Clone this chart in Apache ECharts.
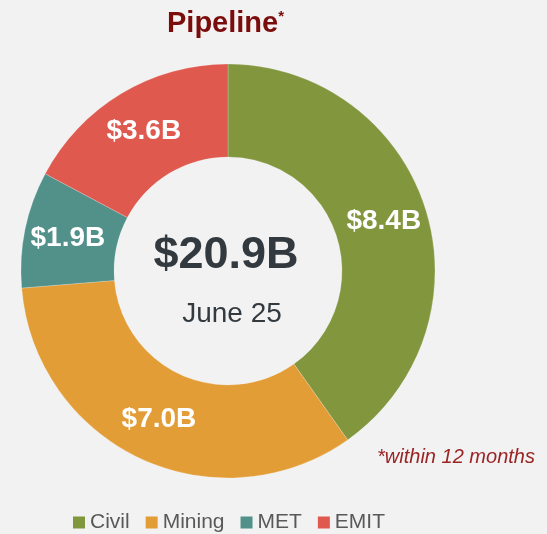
<!DOCTYPE html>
<html>
<head>
<meta charset="utf-8">
<script src="https://cdn.jsdelivr.net/npm/echarts@6/dist/echarts.min.js"></script>
<style>
  html, body { margin: 0; padding: 0; background: #f2f2f2; }
  #chart { width: 547px; height: 534px; }
</style>
</head>
<body>
<div id="chart"></div>
<script>
// pipeline by segment ($B)
var segments = ['Civil', 'Mining', 'MET', 'EMIT'];
var values = [8.4, 7.0, 1.9, 3.6];
var colors = ['#82963e', '#e39d37', '#51918a', '#e0594f'];
var totalText = '$20.9B';
var dateText = 'June 25';

var font = 'Liberation Sans, Arial, sans-serif';
var myChart = echarts.init(document.getElementById('chart'));

var pieData = [];
for (var i = 0; i < segments.length; i++) {
    pieData.push({ name: segments[i], value: values[i], itemStyle: { color: colors[i] } });
}

myChart.setOption({
    backgroundColor: '#f2f2f2',
    animation: false,
    title: {
        text: '{t|Pipeline}{s|*}',
        left: 162,
        top: 4,
        textStyle: {
            rich: {
                t: { fontFamily: font, fontSize: 29, fontWeight: 'bold', color: '#7b0c0c' },
                s: { fontFamily: font, fontSize: 15, fontWeight: 'bold', color: '#7b0c0c', verticalAlign: 'top', padding: [0, 0, 12, 0] }
            }
        }
    },
    legend: {
        data: segments,
        left: 73,
        top: 512,
        padding: 0,
        icon: 'rect',
        itemWidth: 12,
        itemHeight: 12,
        itemGap: 16,
        itemStyle: { borderWidth: 0 },
        textStyle: { fontFamily: font, fontSize: 21, color: '#595959' }
    },
    graphic: [
        {
            type: 'text', x: 226, y: 256,
            style: { text: totalText, font: 'bold 45px ' + font, fill: '#333a3f', align: 'center', verticalAlign: 'middle' }
        },
        {
            type: 'text', x: 232, y: 314,
            style: { text: dateText, font: '28px ' + font, fill: '#333a3f', align: 'center', verticalAlign: 'middle' }
        },
        {
            type: 'text', x: 456, y: 457,
            style: { text: '*within 12 months', font: 'italic 20px ' + font, fill: '#9b2424', align: 'center', verticalAlign: 'middle' }
        }
    ],
    series: [{
        type: 'pie',
        center: [228, 271],
        radius: [114, 207],
        startAngle: 90,
        clockwise: true,
        itemStyle: { borderColor: 'rgba(255,255,255,0.4)', borderWidth: 0.5 },
        label: {
            show: true,
            position: 'inside',
            fontFamily: font,
            fontSize: 28,
            fontWeight: 'bold',
            color: '#ffffff',
            formatter: function (p) { return '$' + p.value.toFixed(1) + 'B'; }
        },
        labelLine: { show: false },
        emphasis: { disabled: true },
        data: pieData
    }]
});
</script>
</body>
</html>
